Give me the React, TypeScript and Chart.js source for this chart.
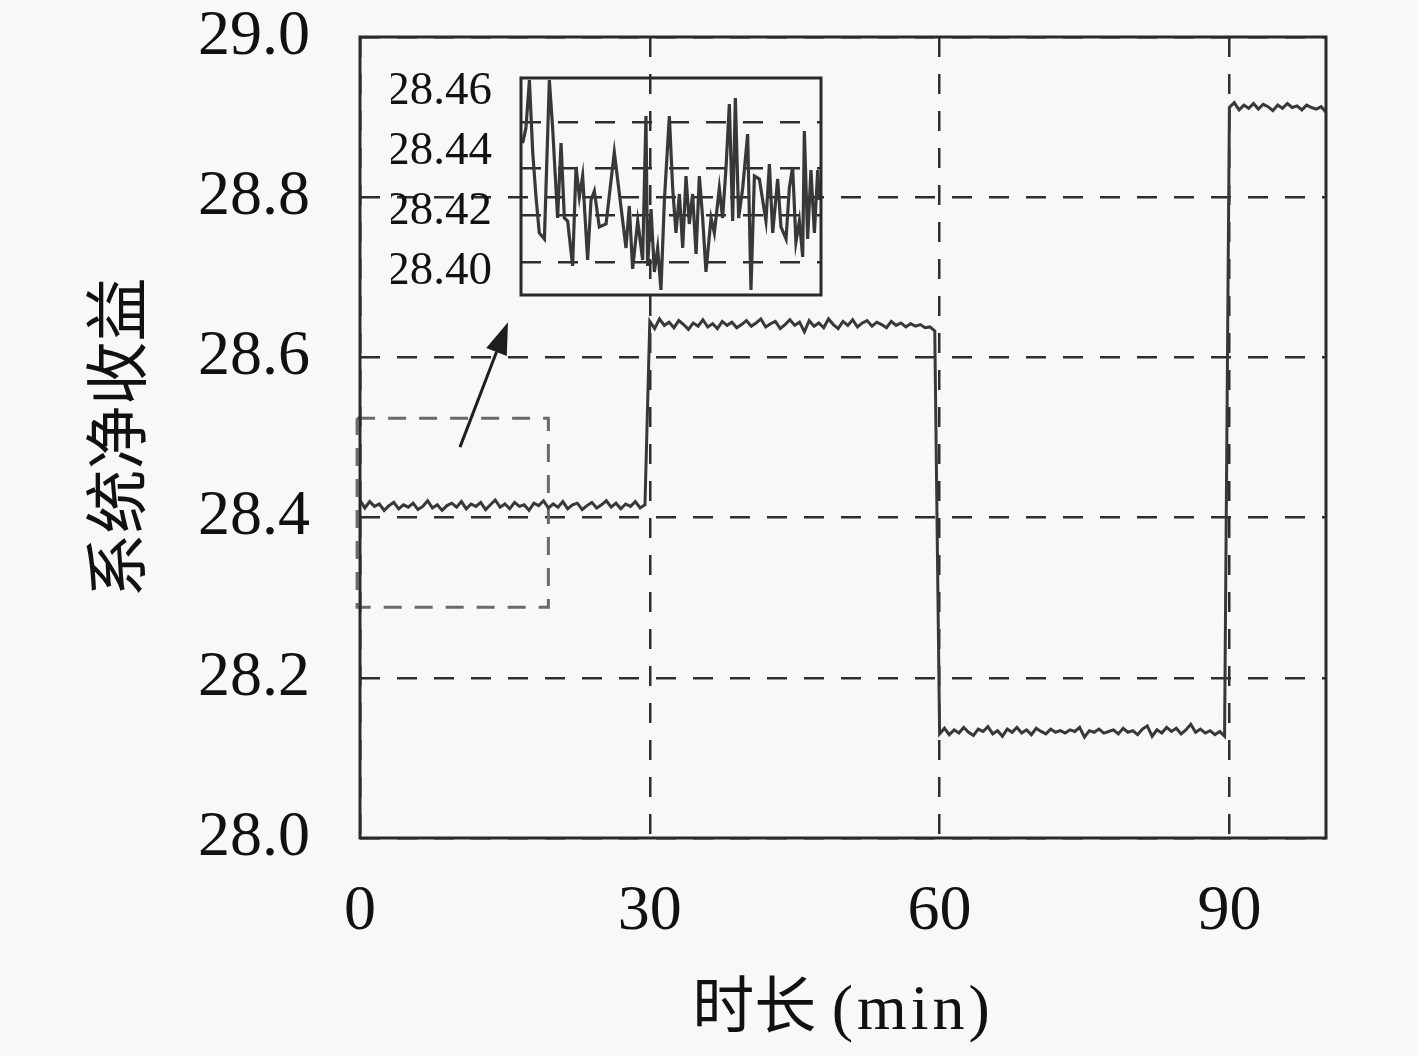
import { Chart, registerables } from "chart.js";
import { useEffect, useRef } from "react";

Chart.register(...registerables);

const SERIF = "'Liberation Serif', 'Noto Sans CJK SC', serif";

// 系统净收益，每 0.5 min 一个采样
const stepMinutes = 0.5;
const segment1 = [
  28.422, 28.412, 28.420, 28.414, 28.417, 28.409, 28.415, 28.419, 28.411, 28.416,
  28.413, 28.418, 28.410, 28.414, 28.421, 28.412, 28.416, 28.409, 28.415, 28.418,
  28.413, 28.420, 28.411, 28.417, 28.414, 28.419, 28.410, 28.416, 28.422, 28.413,
  28.417, 28.411, 28.419, 28.414, 28.416, 28.409, 28.418, 28.415, 28.421, 28.412,
  28.417, 28.413, 28.420, 28.411, 28.416, 28.418, 28.410, 28.415, 28.419, 28.412,
  28.416, 28.421, 28.413, 28.418, 28.411, 28.417, 28.414, 28.420, 28.412, 28.416,
];
const segment2 = [
  28.645, 28.636, 28.648, 28.640, 28.644, 28.637, 28.646, 28.641, 28.635, 28.643,
  28.639, 28.647, 28.638, 28.642, 28.636, 28.645, 28.640, 28.644, 28.637, 28.641,
  28.646, 28.639, 28.643, 28.648, 28.638, 28.642, 28.645, 28.636, 28.641, 28.647,
  28.640, 28.644, 28.632, 28.646, 28.639, 28.643, 28.637, 28.648, 28.641, 28.636,
  28.645, 28.640, 28.647, 28.638, 28.643, 28.646, 28.639, 28.644, 28.641, 28.637,
  28.645, 28.640, 28.643, 28.638, 28.642, 28.639, 28.641, 28.637, 28.638, 28.633,
];
const segment3 = [
  28.130, 28.137, 28.129, 28.135, 28.131, 28.138, 28.132, 28.128, 28.136, 28.133,
  28.139, 28.130, 28.134, 28.127, 28.136, 28.132, 28.138, 28.131, 28.135, 28.129,
  28.137, 28.133, 28.130, 28.136, 28.132, 28.134, 28.131, 28.135, 28.133, 28.138,
  28.126, 28.134, 28.132, 28.136, 28.131, 28.133, 28.135, 28.130, 28.137, 28.132,
  28.134, 28.129, 28.136, 28.140, 28.127, 28.135, 28.131, 28.138, 28.133, 28.137,
  28.130, 28.135, 28.142, 28.132, 28.136, 28.131, 28.134, 28.129, 28.133, 28.127,
];
const segment4 = [
  28.912, 28.918, 28.909, 28.915, 28.911, 28.917, 28.910, 28.916, 28.913, 28.908,
  28.915, 28.911, 28.917, 28.912, 28.914, 28.909, 28.915, 28.912, 28.910, 28.913,
  28.906,
];
const netGain = [...segment1, ...segment2, ...segment3, ...segment4];

const xTicks = [0, 30, 60, 90];
const yTicks = [28.0, 28.2, 28.4, 28.6, 28.8, 29.0];

// 放大区域（虚线框）与箭头
const boxX = [-0.3, 19.5, 19.5, -0.3, -0.3];
const boxY = [28.524, 28.524, 28.288, 28.288, 28.524];
const arrowTail = [10.35, 28.488];
const arrowTip = [15.32, 28.644];

// 局部放大图
const insetMinutes = [
  0.11, 0.33, 0.56, 0.78, 1.0, 1.22, 1.56, 1.89, 2.11, 2.44,
  2.67, 2.89, 3.11, 3.44, 3.67, 3.89, 4.11, 4.44, 4.67, 4.89,
  5.22, 5.67, 6.22, 6.56, 7.0, 7.22, 7.44, 7.78, 8.11, 8.33,
  8.44, 8.67, 8.89, 9.11, 9.33, 9.56, 9.89, 10.11, 10.33, 10.56,
  10.78, 11.0, 11.22, 11.44, 11.67, 11.89, 12.11, 12.33, 12.67, 12.89,
  13.22, 13.44, 13.67, 13.89, 14.11, 14.29, 14.51, 14.78, 15.11, 15.33,
  15.56, 15.89, 16.11, 16.33, 16.56, 16.78, 17.11, 17.33, 17.67, 17.89,
  18.11, 18.33, 18.56, 18.78, 18.89, 19.11, 19.33, 19.56, 19.78, 19.89,
];
const insetValues = [
  28.443, 28.448, 28.464, 28.440, 28.425, 28.413, 28.411, 28.464, 28.448, 28.418,
  28.443, 28.418, 28.417, 28.402, 28.435, 28.425, 28.432, 28.404, 28.424, 28.427,
  28.415, 28.416, 28.440, 28.426, 28.408, 28.422, 28.401, 28.417, 28.404, 28.452,
  28.402, 28.421, 28.400, 28.408, 28.394, 28.424, 28.452, 28.428, 28.413, 28.426,
  28.408, 28.432, 28.416, 28.426, 28.406, 28.432, 28.418, 28.400, 28.418, 28.413,
  28.428, 28.418, 28.435, 28.456, 28.417, 28.458, 28.418, 28.428, 28.446, 28.394,
  28.432, 28.431, 28.424, 28.417, 28.436, 28.413, 28.431, 28.415, 28.411, 28.428,
  28.435, 28.410, 28.417, 28.405, 28.447, 28.411, 28.434, 28.413, 28.434, 28.424,
];
const insetTicks = [28.40, 28.42, 28.44, 28.46];
const insetGridLevels = [28.4033, 28.419, 28.4347, 28.45];

const framePlugin = {
  id: "frame",
  afterDatasetsDraw(chart: any) {
    const { ctx, chartArea: a } = chart;
    ctx.save();
    ctx.setLineDash([]);
    ctx.strokeStyle = "#2a2a2a";
    ctx.lineWidth = 3;
    ctx.strokeRect(a.left, a.top, a.right - a.left, a.bottom - a.top);
    ctx.restore();
  },
};

const mainDecor = {
  id: "mainDecor",
  afterDatasetsDraw(chart: any) {
    const { ctx, chartArea: a, scales } = chart;
    const x = scales.x;
    const y = scales.y;
    ctx.save();
    // 箭头
    const x1 = x.getPixelForValue(arrowTail[0]);
    const y1 = y.getPixelForValue(arrowTail[1]);
    const x2 = x.getPixelForValue(arrowTip[0]);
    const y2 = y.getPixelForValue(arrowTip[1]);
    const ang = Math.atan2(y2 - y1, x2 - x1);
    const headLen = 32;
    const headW = 11;
    const bx = x2 - headLen * Math.cos(ang);
    const by = y2 - headLen * Math.sin(ang);
    ctx.strokeStyle = "#1e1e1e";
    ctx.fillStyle = "#1e1e1e";
    ctx.lineWidth = 3;
    ctx.beginPath();
    ctx.moveTo(x1, y1);
    ctx.lineTo(bx, by);
    ctx.stroke();
    ctx.beginPath();
    ctx.moveTo(x2, y2);
    ctx.lineTo(bx + headW * Math.sin(ang), by - headW * Math.cos(ang));
    ctx.lineTo(bx - headW * Math.sin(ang), by + headW * Math.cos(ang));
    ctx.closePath();
    ctx.fill();

    // 坐标轴标题
    ctx.fillStyle = "#111";
    ctx.textBaseline = "middle";
    const cx = (a.left + a.right) / 2;
    const ty = a.bottom + 174;
    ctx.font = `62px ${SERIF}`;
    const cn = "时长 ";
    const cnW = ctx.measureText(cn).width;
    ctx.font = `64px 'Liberation Serif', serif`;
    (ctx as any).letterSpacing = "4px";
    const enW = ctx.measureText("(min)").width;
    const start = cx - (cnW + enW) / 2;
    ctx.textAlign = "left";
    ctx.fillText("(min)", start + cnW, ty);
    (ctx as any).letterSpacing = "0px";
    ctx.font = `62px ${SERIF}`;
    ctx.fillText(cn, start, ty);

    ctx.textAlign = "center";
    ctx.font = `64px ${SERIF}`;
    ctx.translate(123, (a.top + a.bottom) / 2);
    ctx.rotate(-Math.PI / 2);
    ctx.fillText("系统净收益", 0, 0);
    ctx.restore();
  },
};

const App = () => {
  const mainRef = useRef<HTMLCanvasElement>(null);
  const insetRef = useRef<HTMLCanvasElement>(null);

  useEffect(() => {
    if (!mainRef.current || !insetRef.current) return;

    const mainChart = new Chart(mainRef.current, {
      type: "line",
      data: {
        datasets: [
          {
            data: netGain.map((v, i) => ({ x: i * stepMinutes, y: v })),
            borderColor: "#383838",
            borderWidth: 3,
            pointRadius: 0,
            tension: 0,
          },
          {
            data: boxX.map((v, i) => ({ x: v, y: boxY[i] })),
            borderColor: "#6a6a6a",
            borderWidth: 3,
            borderDash: [18, 13],
            pointRadius: 0,
            clip: false as any,
          },
        ],
      },
      options: {
        animation: false,
        responsive: false,
        events: [],
        layout: { padding: { left: 0, top: 37, right: 91, bottom: 0 } },
        plugins: { legend: { display: false }, tooltip: { enabled: false } },
        scales: {
          x: {
            type: "linear",
            min: 0,
            max: 100,
            afterBuildTicks: (s: any) => {
              s.ticks = xTicks.map((value) => ({ value }));
            },
            afterFit: (s: any) => {
              s.height = 218;
              s.paddingLeft = 0;
              s.paddingRight = 0;
            },
            grid: { color: "#2e2e2e", lineWidth: 2.5, drawTicks: false },
            border: { display: false, dash: [20, 17] },
            ticks: { font: { family: SERIF, size: 64 }, color: "#111", padding: 36, maxRotation: 0 },
          },
          y: {
            type: "linear",
            min: 28,
            max: 29,
            afterBuildTicks: (s: any) => {
              s.ticks = yTicks.map((value) => ({ value }));
            },
            afterFit: (s: any) => {
              s.width = 360;
              s.paddingTop = 0;
              s.paddingBottom = 0;
            },
            grid: { color: "#2e2e2e", lineWidth: 2.5, drawTicks: false },
            border: { display: false, dash: [20, 17] },
            ticks: {
              font: { family: SERIF, size: 64 },
              color: "#111",
              padding: 50,
              callback: (v: any) => Number(v).toFixed(1),
            },
          },
        },
      },
      plugins: [framePlugin, mainDecor],
    } as any);

    const insetChart = new Chart(insetRef.current, {
      type: "line",
      data: {
        datasets: [
          {
            data: insetValues.map((v, i) => ({ x: insetMinutes[i], y: v })),
            borderColor: "#383838",
            borderWidth: 3.2,
            pointRadius: 0,
            tension: 0,
          },
        ],
      },
      options: {
        animation: false,
        responsive: false,
        events: [],
        layout: { padding: { left: 391, top: 78, right: 596, bottom: 761 } },
        plugins: { legend: { display: false }, tooltip: { enabled: false } },
        scales: {
          x: { type: "linear", min: 0, max: 20, display: false },
          y: {
            type: "linear",
            position: "left",
            min: 28.3923,
            max: 28.4647,
            afterBuildTicks: (s: any) => {
              s.ticks = insetTicks.map((value) => ({ value }));
            },
            afterFit: (s: any) => {
              s.width = 130;
              s.paddingTop = 0;
              s.paddingBottom = 0;
            },
            grid: { display: false },
            border: { display: false },
            ticks: {
              font: { family: SERIF, size: 47 },
              color: "#111",
              padding: 21,
              callback: (v: any) => Number(v).toFixed(2),
            },
          },
          yGrid: {
            type: "linear",
            position: "left",
            min: 28.3923,
            max: 28.4647,
            afterBuildTicks: (s: any) => {
              s.ticks = insetGridLevels.map((value) => ({ value }));
            },
            afterFit: (s: any) => {
              s.width = 0;
              s.paddingTop = 0;
              s.paddingBottom = 0;
            },
            grid: { color: "#2e2e2e", lineWidth: 2.5, drawTicks: false },
            border: { display: false, dash: [20, 17] },
            ticks: { display: false },
          },
        },
      },
      plugins: [framePlugin],
    } as any);

    return () => {
      mainChart.destroy();
      insetChart.destroy();
    };
  }, []);

  const canvasStyle: React.CSSProperties = { position: "absolute", left: 0, top: 0, width: 1417, height: 1056 };

  return (
    <div style={{ position: "fixed", left: 0, top: 0, width: 1417, height: 1056, background: "#f8f8f8" }}>
      <canvas ref={mainRef} width={1417} height={1056} style={canvasStyle} />
      <canvas ref={insetRef} width={1417} height={1056} style={canvasStyle} />
    </div>
  );
};

export default App;
